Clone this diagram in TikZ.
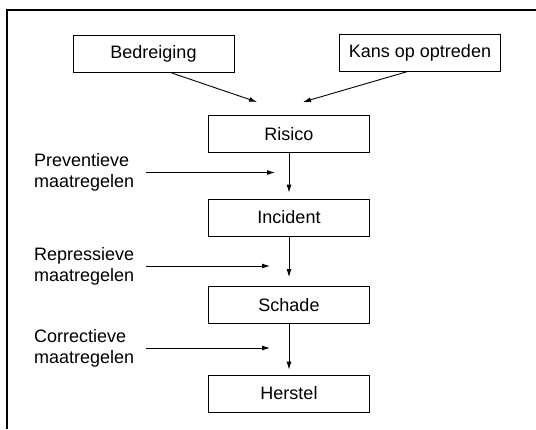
\documentclass[tikz,border=0pt]{standalone}
\usepackage{fontspec}
\setmainfont{Liberation Sans}
\usetikzlibrary{arrows.meta}
\begin{document}
\begin{tikzpicture}[x=1pt,y=-1pt,
  box/.style={draw=black, line width=0.8pt, minimum width=161pt, minimum height=37pt,
    inner sep=0pt, font=\fontsize{18}{21}\selectfont},
  lab/.style={anchor=west, inner sep=0pt, align=left, font=\fontsize{18}{21}\selectfont},
  arr/.style={draw=black, line width=0.9pt, -{Latex[length=8pt,width=5pt]}}]
\useasboundingbox (0,0) rectangle (536,429);
% open frame: top and left sides only
\draw[line width=1.6pt] (7,429) -- (7,10) -- (536,10);
% chain of boxes
\node[box] (bed)  at (153.5,54)  {Bedreiging};
\node[box] (kans) at (420,52.5)  {Kans op optreden};
\node[box] (ris)  at (289,134)   {Risico};
\node[box] (inc)  at (289,217.5) {Incident};
\node[box] (sch)  at (289,305)   {Schade};
\node[box] (her)  at (289,393.5) {Herstel};
% inputs into the risk box
\coordinate (inL) at (257,102);
\coordinate (inR) at (303,102);
\draw[arr] (bed.south) ++(18,0) coordinate (bedout) (bedout) -- (inL);
\draw[arr] (kans.south) ++(-12,0) coordinate (kansout) (kansout) -- (inR);
% vertical flow
\draw[arr, shorten >=6pt] (ris.south) -- (inc.north);
\draw[arr, shorten >=9pt] (inc.south) -- (sch.north);
\draw[arr, shorten >=5pt] (sch.south) -- (her.north);
% measures, each with a horizontal arrow towards the flow
\node[lab] (prev) at (34,172.5) {Preventieve\\maatregelen};
\node[lab] (repr) at (34,266) {Repressieve\\maatregelen};
\node[lab] (corr) at (34,348) {Correctieve\\maatregelen};
\coordinate (pEnd) at (275,172.5);
\coordinate (rEnd) at (270,266);
\coordinate (cEnd) at (270,348);
\draw[arr] ([xshift=12pt]prev.east) -- (pEnd);
\draw[arr] ([xshift=12pt]repr.east) -- (rEnd);
\draw[arr] ([xshift=12pt]corr.east) -- (cEnd);
\end{tikzpicture}
\end{document}
